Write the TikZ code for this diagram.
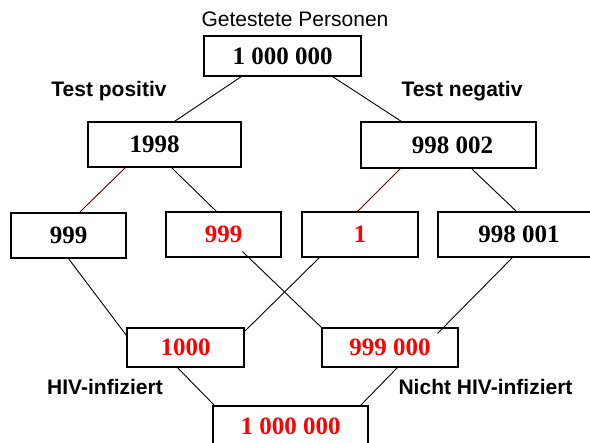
\documentclass[tikz,border=0pt]{standalone}
\usepackage{fontspec}
\setmainfont{Liberation Serif}
\setsansfont{Liberation Sans}
\definecolor{numred}{RGB}{255,0,0}
\definecolor{linkred}{RGB}{96,0,0}
\begin{document}
\begin{tikzpicture}[x=1pt, y=-1pt,
  box/.style={draw=black, line width=1.1pt, fill=white, inner sep=0pt,
    font=\fontsize{25}{25}\selectfont\bfseries},
  redtext/.style={text=numred},
  link/.style={draw=black, line width=0.9pt},
  redlink/.style={draw=linkred, line width=0.9pt},
  caption/.style={font=\fontsize{21}{21}\selectfont\sffamily\bfseries, anchor=base},
  title/.style={font=\fontsize{21}{21}\selectfont\sffamily, anchor=base}]
\useasboundingbox (0,0) rectangle (590,443);
\clip (0,0) rectangle (590,443);

% boxes, top to bottom
\node[box, minimum width=157pt, minimum height=40pt] (top)  at (282.5,56) {1 000 000};
\node[box, minimum width=153pt, minimum height=45pt] (pos)  at (164.5,144.5) {\hspace*{-20pt}1998};
\node[box, minimum width=175pt, minimum height=46pt] (neg)  at (448.5,145) {\hspace*{8pt}998 002};
\node[box, minimum width=115pt, minimum height=45pt] (pa)   at (68.5,235.5) {999};
\node[box, redtext, minimum width=115pt, minimum height=45pt] (pb) at (223.5,234.5) {999};
\node[box, redtext, minimum width=116pt, minimum height=45pt] (nc) at (360,234.5) {1};
\node[box, minimum width=162pt, minimum height=45pt] (nd)   at (519,234.5) {998 001};
\node[box, redtext, minimum width=117pt, minimum height=39pt] (hiv)  at (185.5,347.5) {1000};
\node[box, redtext, minimum width=136pt, minimum height=39pt] (nhiv) at (390,347.5) {999 000};
\node[box, redtext, minimum width=155pt, minimum height=40pt] (sum)  at (290.5,426) {1 000 000};

% labels
\node[title]   (ttop) at (295,27)  {Getestete Personen};
\node[caption] (tpos) at (109,97)  {Test positiv};
\node[caption] (tneg) at (462,97)  {Test negativ};
\node[caption] (thiv) at (105,395) {HIV-infiziert};
\node[caption] (tnhv) at (485.5,395) {Nicht HIV-infiziert};

% first split
\draw[link] ([xshift=38pt]top.south west) -- ([xshift=87pt]pos.north west);
\draw[link] ([xshift=129pt]top.south west) -- ([xshift=41pt]neg.north west);

% second split
\draw[redlink] ([xshift=38pt]pos.south west) -- ([xshift=69pt]pa.north west);
\draw[link] ([xshift=84pt]pos.south west) -- ([xshift=51pt]pb.north west);
\draw[redlink] ([xshift=40pt]neg.south west) -- ([xshift=56pt]nc.north west);
\draw[link] ([xshift=111pt]neg.south west) -- ([xshift=79pt]nd.north west);

% regrouping by infection status
\draw[link] ([xshift=58pt]pa.south west) -- ([yshift=-8pt]hiv.north west);
\draw[link] ([xshift=77pt,yshift=6pt]pb.south west) -- (nhiv.north west);
\draw[link] ([xshift=18pt]nc.south west) -- ([xshift=-1pt,yshift=-5pt]hiv.north east);
\draw[link] ([xshift=76pt,yshift=1pt]nd.south west) -- ([xshift=-21pt,yshift=-6pt]nhiv.north east);

% totals
\draw[link] ([xshift=51pt]hiv.south west) -- ([xshift=2pt]sum.north west);
\draw[link] ([xshift=76pt]nhiv.south west) -- ([xshift=-8pt]sum.north east);
\end{tikzpicture}
\end{document}
